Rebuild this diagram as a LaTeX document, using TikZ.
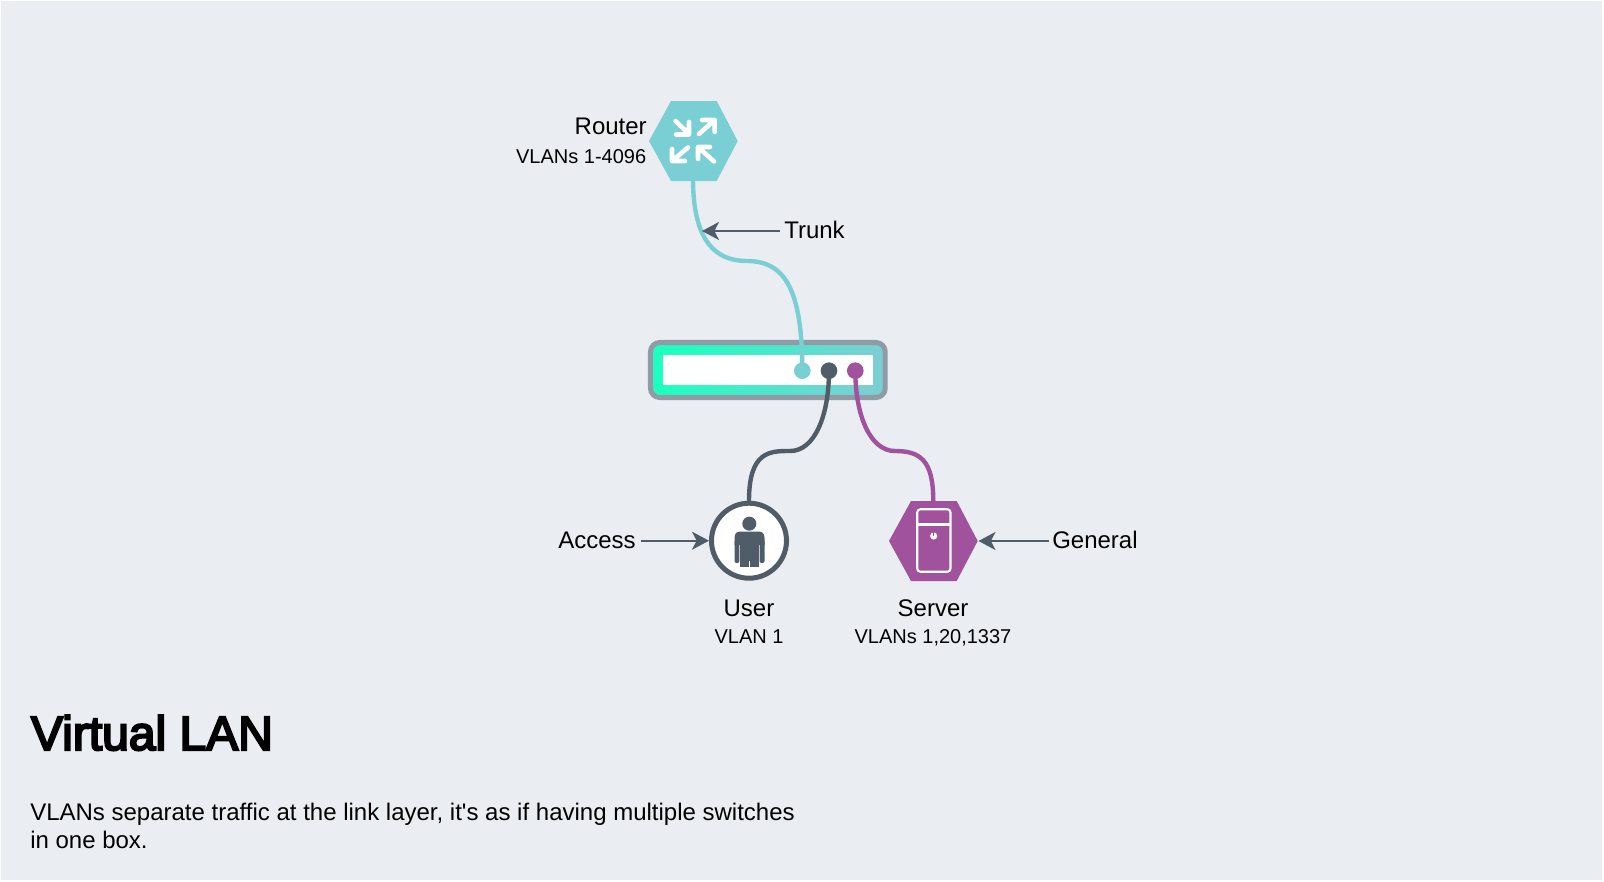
\documentclass[tikz,border=0pt]{standalone}
\usepackage{fontspec}
\setmainfont[Ligatures=TeXOff]{Liberation Sans}
\newfontfamily\titlefont[FakeBold=4.5]{Liberation Sans}
\usetikzlibrary{arrows.meta}
\definecolor{bgc}{HTML}{EAEEF3}
\definecolor{teal}{HTML}{7ACFD4}
\definecolor{slatec}{HTML}{505D68}
\definecolor{purp}{HTML}{A1529C}
\definecolor{frame}{HTML}{8F9CA6}
\definecolor{mint}{HTML}{1EFFC0}
\tikzset{
  x=0.75pt,y=-0.75pt,
  cable/.style={line width=3.3pt,line cap=round},
  callout/.style={draw=slatec,line width=1.5pt,-{Stealth[length=12.75pt,width=13.5pt,inset=3.5pt]}},
  lab/.style={font=\fontsize{18pt}{21pt}\selectfont,inner sep=0pt,text=black},
  sublab/.style={font=\fontsize{15pt}{18pt}\selectfont,inner sep=0pt,text=black},
  hexa/.style={fill=#1,draw=none},
  dot/.style={circle,minimum size=12.5pt,inner sep=0pt,fill=#1,draw=none},
  icon/.style={white,line width=3.4pt,line cap=round,line join=round},
}
\begin{document}
\begin{tikzpicture}
\useasboundingbox (0,0) rectangle (1604,882);
\fill[white] (0,0) rectangle (1604,882);
\fill[bgc] (1,1) rectangle (1601.5,880);
% switch
\shade[left color=mint,right color=teal,shading angle=70,rounded corners=7pt,draw=frame,line width=3.8pt]
  (650.5,342.5) rectangle (885.2,397.5);
\fill[white] (663,355) rectangle (873,385);
% nodes
\coordinate (rt) at (693.3,141);
\fill[hexa=teal] (649,141) -- (671,101) -- (716.7,101) -- (737.7,141) -- (716.7,181) -- (671,181) -- cycle;
\coordinate (routertop) at (693,181);
\node[dot=teal] (p1) at (802.3,370.7) {};
\node[dot=slatec] (p2) at (829,370.7) {};
\node[dot=purp] (p3) at (855.3,370.7) {};
\node[circle,draw=slatec,fill=white,line width=3.75pt,minimum size=56.25pt,inner sep=0pt] (user) at (749,540.7) {};
\coordinate (srv) at (933.3,541);
\fill[hexa=purp] (889,541) -- (911,501) -- (956.7,501) -- (977.7,541) -- (956.7,581) -- (911,581) -- cycle;
% cables
\draw[cable,teal] (routertop) .. controls (693.5,225) and (705,261) .. (747,261) .. controls (785,261) and (802.3,290) .. (p1.center);
\draw[cable,slatec] (p2.center) .. controls (829,415) and (815,451) .. (790,451) .. controls (770,451) and (749,451) .. (user.north);
\draw[cable,purp] (p3.center) .. controls (855.3,415) and (870,451) .. (895,451) .. controls (920,451) and (933.3,460) .. (933.3,501);
% router icon
\draw[icon] (675.5,121) -- (689,134) (676,134.5) -- (689,134.5) -- (689,122);
\draw[icon] (699,134) -- (714.7,120) (702,120) -- (714.7,120) -- (714.7,132);
\draw[icon] (688,147.5) -- (672,161) (672,149) -- (672,161) -- (685,161);
\draw[icon] (714,161.5) -- (698,147) (698,159) -- (698,147) -- (710,147);
% server icon
\draw[white,line width=1.6pt,rounded corners=2.5pt] (917.2,509.2) rectangle (950.5,571.8);
\draw[white,line width=1.6pt] (917.2,524.5) -- (950.5,524.5);
\fill[white] (933.7,536) circle (3.6);
\fill[purp] (933.1,532) rectangle +(1.2,4);
% person
\fill[slatec] (749.3,523.7) circle (7);
\fill[slatec] (734.5,545) -- (734.5,538) .. controls (734.5,533) and (737,531.5) .. (741,531.5) -- (758,531.5) .. controls (762,531.5) and (764.5,533) .. (764.5,538) -- (764.5,545) -- cycle;
\fill[slatec,rounded corners=1.5pt] (734.5,540) rectangle (739.4,563);
\fill[slatec,rounded corners=1.5pt] (759.5,540) rectangle (764.5,563);
\fill[slatec] (740.2,540) rectangle (758.7,566.8);
\fill[white] (748.7,561) rectangle (750.1,567);
% labels
\node[lab,anchor=base east] (router) at (647,134) {Router};
\node[sublab,anchor=base east] (rvlan) at (646.5,163.5) {VLANs 1-4096};
\node[lab,anchor=base west] (trunk) at (784,238) {Trunk};
\coordinate (trunktip) at (702,231);
\coordinate (trunktail) at (780,231);
\node[lab,anchor=base east] (access) at (636,548) {Access};
\coordinate (accesstail) at (641,540.7);
\node[lab,anchor=base west] (general) at (1052,548) {General};
\coordinate (generaltail) at (1049,541);
\node[lab,anchor=base] (userl) at (749,616) {User};
\node[sublab,anchor=base] (uservlan) at (749,643.5) {VLAN 1};
\node[lab,anchor=base] (serverl) at (933,616) {Server};
\node[sublab,anchor=base] (servervlan) at (933,643.5) {VLANs 1,20,1337};
\draw[callout] (trunktail) -- (trunktip);
\draw[callout] (accesstail) -- (user.west);
\coordinate (srvright) at (978.5,541);
\draw[callout] (generaltail) -- (srvright);
% text
\node[anchor=base west,inner sep=0pt,font=\titlefont\fontsize{36pt}{40pt}\selectfont] (title) at (30.8,750) {Virtual LAN};
\node[anchor=base west,inner sep=0pt,lab] (d1) at (30,820) {VLANs separate traffic at the link layer, it's as if having multiple switches};
\node[anchor=base west,inner sep=0pt,lab] (d2) at (30,848) {in one box.};
\end{tikzpicture}
\end{document}
